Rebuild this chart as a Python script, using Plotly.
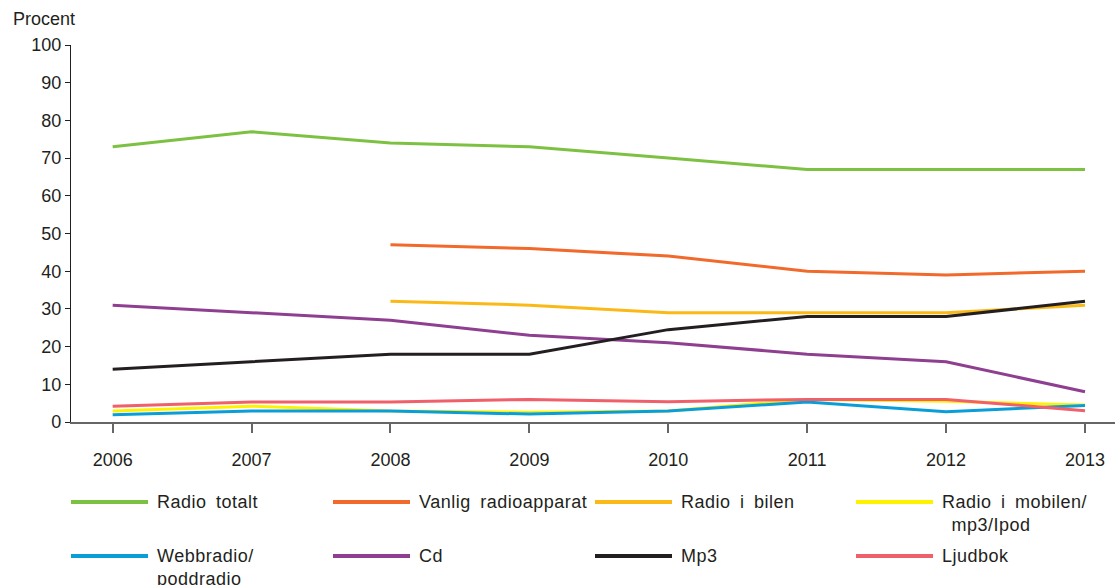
import plotly.graph_objects as go

years = [2006, 2007, 2008, 2009, 2010, 2011, 2012, 2013]

radio_totalt = [73, 77, 74, 73, 70, 67, 67, 67]
vanlig_radio = [None, None, 47, 46, 44, 40, 39, 40]
radio_bilen = [None, None, 32, 31, 29, 29, 29, 31]
radio_mobilen = [2.9, 4.2, 2.9, 2.6, 2.9, 6, 5.5, 4.5]
webbradio = [1.9, 2.9, 2.9, 2.1, 2.9, 5.3, 2.7, 4.4]
cd = [31, 29, 27, 23, 21, 18, 16, 8]
mp3 = [14, 16, 18, 18, 24.5, 28, 28, 32]
ljudbok = [4.2, 5.3, 5.3, 6, 5.4, 6, 6, 3]

series_names = ["Radio\u2002totalt", "Vanlig\u2002radioapparat", "Radio\u2002i\u2002bilen",
                "Radio\u2002i\u2002mobilen/<br>\u2002mp3/Ipod", "Webbradio/<br>poddradio",
                "Cd", "Mp3", "Ljudbok"]
series_values = [radio_totalt, vanlig_radio, radio_bilen, radio_mobilen, webbradio, cd, mp3, ljudbok]
colors = ["#7dc142", "#f2692c", "#fbb918", "#fff200", "#0a9ed9", "#8f3f90", "#231f20", "#f0606b"]

FONT = "Liberation Sans, Arial, sans-serif"
W, H = 1115, 585
L, R, T, B = 71, 0, 45, 163
pw, ph = W - L - R, H - T - B

fig = go.Figure()
for name, vals, col in zip(series_names, series_values, colors):
    fig.add_trace(go.Scatter(x=years, y=vals, mode="lines", name=name,
                             line=dict(color=col, width=3), showlegend=False,
                             connectgaps=False))

# manual legend, 4 columns x 2 rows
col_x = [71, 333, 595, 856]
row_y = [502, 556]
def px(x):
    return (x - L) / pw
def py(y):
    return (H - B - y) / ph

shapes = []
annotations = []
for i, (name, col) in enumerate(zip(series_names, colors)):
    c = i % 4
    r = i // 4
    x0 = col_x[c]
    y0 = row_y[r]
    shapes.append(dict(type="line", xref="paper", yref="paper",
                       x0=px(x0), x1=px(x0 + 77), y0=py(y0), y1=py(y0),
                       line=dict(color=col, width=4)))
    txt = "<br>".join('<span style="letter-spacing:0.5px">%s</span>' % part
                      for part in name.split("<br>"))
    annotations.append(dict(xref="paper", yref="paper", x=px(x0 + 84), y=py(y0 - 12),
                            text=txt, showarrow=False, xanchor="left", yanchor="top",
                            align="left", font=dict(size=18, color="#231f20", family=FONT)))

annotations.append(dict(xref="paper", yref="paper", x=px(11), y=py(7),
                        text="Procent", showarrow=False, xanchor="left", yanchor="top",
                        font=dict(size=18, color="#231f20", family=FONT)))

fig.update_layout(
    width=W, height=H,
    margin=dict(l=L, r=R, t=T, b=B),
    paper_bgcolor="white", plot_bgcolor="white",
    font=dict(family=FONT, size=18, color="#231f20"),
    shapes=shapes, annotations=annotations,
    xaxis=dict(range=[2005.70, 2013.216], tickvals=years, ticktext=[str(y) for y in years],
               showgrid=False, zeroline=False, showline=True, linecolor="#666666", linewidth=1.5,
               ticks="outside", ticklen=9, tickcolor="#666666", tickwidth=1.5,
               ticklabelstandoff=12, tickfont=dict(size=18, family=FONT, color="#231f20")),
    yaxis=dict(range=[0, 100], tickvals=list(range(0, 101, 10)),
               showgrid=False, zeroline=False, showline=True, linecolor="#231f20", linewidth=1.2,
               ticks="outside", ticklen=5, tickcolor="#231f20", tickwidth=1.2,
               tickfont=dict(size=18, family=FONT, color="#231f20")),
)

fig.write_html("out.html")
